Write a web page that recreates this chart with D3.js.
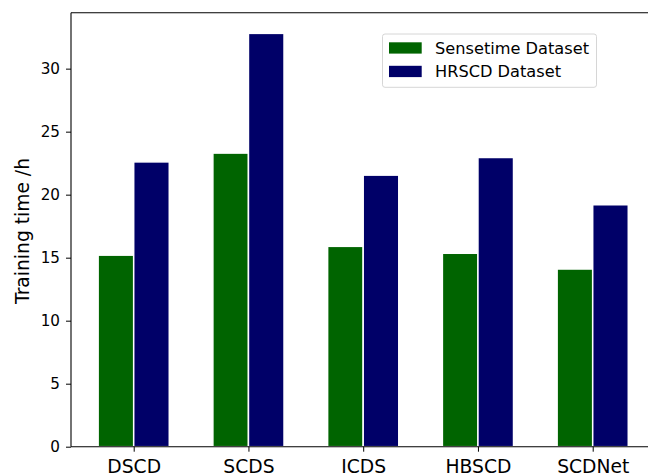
<!DOCTYPE html>
<html>
<head>
<meta charset="utf-8">
<script src="https://cdn.jsdelivr.net/npm/d3@7/dist/d3.min.js"></script>
<style>
  html, body { margin: 0; padding: 0; background: #fff; }
  svg { display: block; font-family: "DejaVu Sans", sans-serif; }
</style>
</head>
<body>
<svg id="chart" width="648" height="476"></svg>
<script>
// Training time per method on two datasets
const methods = ["DSCD", "SCDS", "ICDS", "HBSCD", "SCDNet"];
const sensetimeHours = [15.2, 23.3, 15.9, 15.35, 14.1];
const hrscdHours = [22.6, 32.8, 21.55, 22.95, 19.2];
const seriesNames = ["Sensetime Dataset", "HRSCD Dataset"];
const seriesColors = ["#006400", "#000068"];
const yTicks = [0, 5, 10, 15, 20, 25, 30];

const svg = d3.select("#chart");
const plotLeft = 71, plotTop = 12.7, plotBottom = 446.7, plotRight = 660;

// index-based x positions, bars sit either side of each tick
const x = d3.scaleLinear().domain([0, 4]).range([133.7, 592.7]);
const y = d3.scaleLinear().domain([0, 34.44]).range([plotBottom, plotTop]);
const barW = 0.31;

const series = [sensetimeHours, hrscdHours];
series.forEach((vals, s) => {
  svg.append("g").selectAll("rect").data(vals).join("rect")
    .attr("x", (d, i) => x(i + (s === 0 ? -barW : 0)))
    .attr("width", x(barW) - x(0))
    .attr("y", d => y(d))
    .attr("height", d => y(0) - y(d))
    .attr("fill", seriesColors[s])
    .attr("stroke", "#fff")
    .attr("stroke-width", 1.5);
});

// y axis
const yAxis = d3.axisLeft(y).tickValues(yTicks).tickSize(5).tickPadding(6);
const gy = svg.append("g").attr("transform", `translate(${plotLeft},0)`).call(yAxis);
gy.select(".domain").remove();
gy.selectAll("text").attr("font-size", 15.2).attr("fill", "#000")
  .attr("font-family", "DejaVu Sans");
gy.selectAll("line").attr("stroke", "#000").attr("stroke-width", 1);

// x axis
const xAxis = d3.axisBottom(x).tickValues(d3.range(methods.length))
  .tickFormat(i => methods[i]).tickSize(5).tickPadding(8);
const gx = svg.append("g").attr("transform", `translate(0,${plotBottom})`).call(xAxis);
gx.select(".domain").remove();
gx.selectAll("text").attr("font-size", 18.7).attr("fill", "#000")
  .attr("font-family", "DejaVu Sans");
gx.selectAll("line").attr("stroke", "#000").attr("stroke-width", 1);

// spines
svg.append("line").attr("x1", plotLeft).attr("x2", plotLeft).attr("y1", plotTop).attr("y2", plotBottom)
  .attr("stroke", "#000").attr("stroke-width", 1.1);
svg.append("line").attr("x1", plotLeft).attr("x2", plotRight).attr("y1", plotBottom).attr("y2", plotBottom)
  .attr("stroke", "#000").attr("stroke-width", 1.1);
svg.append("line").attr("x1", plotLeft).attr("x2", plotRight).attr("y1", plotTop).attr("y2", plotTop)
  .attr("stroke", "#000").attr("stroke-width", 1.1);

// y label
svg.append("text")
  .attr("transform", `translate(29,231) rotate(-90)`)
  .attr("text-anchor", "middle")
  .attr("font-size", 18.7)
  .attr("fill", "#000")
  .text("Training time /h");

// legend
const lg = svg.append("g");
lg.append("rect").attr("x", 382.5).attr("y", 34).attr("width", 214).attr("height", 53.3)
  .attr("rx", 2.5).attr("fill", "#fff").attr("stroke", "#d6d6d6").attr("stroke-width", 1);
seriesNames.forEach((name, k) => {
  const yy = 42.3 + k * 23.5;
  lg.append("rect").attr("x", 389).attr("y", yy).attr("width", 32.7).attr("height", 11.3)
    .attr("fill", seriesColors[k]);
  lg.append("text").attr("x", 435).attr("y", yy + 11.3).attr("font-size", 16.2)
    .attr("fill", "#000").text(name);
});
</script>
</body>
</html>
